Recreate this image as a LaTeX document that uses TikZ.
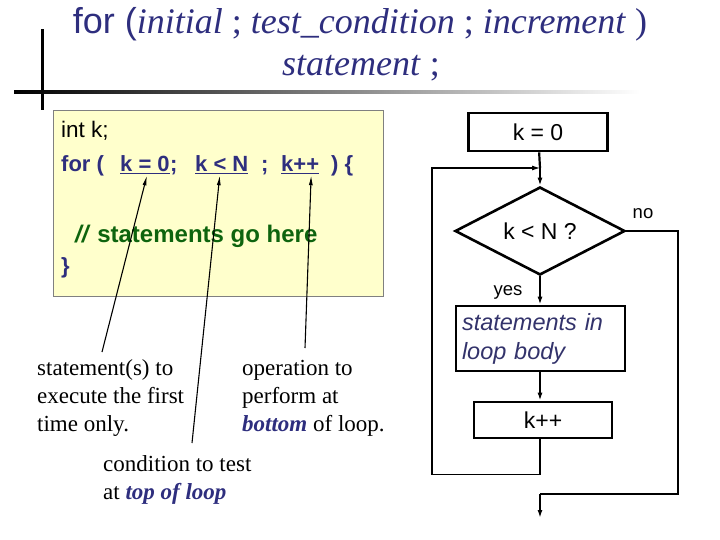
\documentclass[tikz,border=0pt]{standalone}
\usepackage{fontspec}
\setmainfont{Liberation Serif}
\setsansfont{Liberation Sans}
\definecolor{navy}{HTML}{2E2E7E}
\definecolor{slate}{HTML}{33336B}
\definecolor{codegreen}{HTML}{0E640E}
\definecolor{paleyellow}{HTML}{FFFFCC}
\usetikzlibrary{arrows.meta,positioning,calc,shapes.geometric}

\tikzset{
  heading/.style={font=\fontsize{36}{40}\selectfont, text=navy, inner sep=0pt, anchor=base},
  code/.style={font=\sffamily\fontsize{22.5}{26}\selectfont, inner sep=0pt, anchor=base west},
  codebold/.style={code, font=\sffamily\bfseries\fontsize{22}{26}\selectfont, text=navy},
  note/.style={font=\fontsize{23}{28}\selectfont, align=left, inner sep=0pt, anchor=base west},
  flowbox/.style={draw, line width=2.6pt, font=\sffamily\fontsize{23}{27}\selectfont},
  pointer/.style={-{Latex[length=10pt,width=4pt]}, line width=1.1pt},
  flow/.style={-{Latex[length=8pt,width=5pt]}, line width=2.2pt},
  back/.style={line width=1.1pt}
}
\newcommand{\hi}[1]{\textcolor{navy}{\textbf{\textit{#1}}}}

\begin{document}
\begin{tikzpicture}[x=1pt, y=-1pt]
  \useasboundingbox (0,0) rectangle (720,540);

  % title
  \node[heading] (head1) at (360,34)
    {{\sffamily for (}\textit{initial} ; \textit{test\_condition} ; \textit{increment} )};
  \node[heading] (head2) at (361,76) {\textit{statement} ;};
  \fill (40.5,29) rectangle (43.5,110);
  \shade[left color=black, right color=white] (14,90.5) rectangle (640,93.5);

  % code panel
  \node[draw=gray, fill=paleyellow, minimum width=330pt, minimum height=186pt, inner sep=0pt]
    (panel) at (218,203) {};
  \node[code] (decl) at (61,138) {int k;};
  \node[codebold] (kw) at (61,172) {for (};
  \node[codebold] (init) at (120,172) {\underline{k = 0}};
  \node[codebold] (semi1) at (init.base east) {;};
  \node[codebold] (cond) at (195,172) {\underline{k < N}};
  \node[codebold] (semi2) at (261,172) {;};
  \node[codebold] (incr) at (281,172) {\underline{k++}};
  \node[codebold] (brace) at (331,172) {) \{};
  \node[code, font=\sffamily\bfseries\fontsize{24}{28}\selectfont, text=codegreen]
    (comment) at (75,242) {\textit{//} statements go here};
  \node[codebold] (close) at (61,273) {\}};

  % notes
  \node[note] (firstnote) at (37,431) {statement(s) to\\execute the first\\time only.};
  \node[note] (lastnote) at (242,431) {operation to\\perform at\\\hi{bottom} of loop.};
  \node[note] (testnote) at (103,499) {condition to test\\at \hi{top of loop}};

  \coordinate (t1) at (102,352);
  \coordinate (t2) at (192,443);
  \coordinate (t3) at (305,348);
  \draw[pointer] (t1) -- ([xshift=2pt,yshift=-1pt]init.south);
  \draw[pointer] (t2) -- ([xshift=-2pt,yshift=-1pt]cond.south);
  \draw[pointer] (t3) -- ([xshift=11pt,yshift=-1pt]incr.south);

  % flowchart
  \node[flowbox, minimum width=139pt, minimum height=38pt] (start) at (538,132) {k = 0};
  \node[diamond, draw, line width=2.6pt, aspect=1.9, minimum width=170pt, minimum height=88pt,
    inner sep=0pt, font=\sffamily\fontsize{23}{27}\selectfont] (test) at (540,231) {k < N ?};
  \node[flowbox, minimum width=169pt, minimum height=65pt, text width=157pt, align=left,
    inner sep=3pt, font=\sffamily\itshape\fontsize{23.5}{29}\selectfont, text=slate]
    (body) at (540.5,338.5) {statements in\\loop body};
  \node[flowbox, minimum width=138pt, minimum height=36pt] (step) at (543,420) {k++};

  \node[font=\sffamily\fontsize{18.5}{22}\selectfont] (yes) at (508,292) {yes};
  \node[font=\sffamily\fontsize{18.5}{22}\selectfont] (no) at (643,214) {no};

  \coordinate (join) at (540,168);
  \coordinate (exit) at (540,494);
  \draw[line width=2.2pt] (start) -- (join);
  \draw[flow] (join) -- (test.north);
  \draw[flow] (test.south) -- (body.north -| test.south);
  \draw[flow] (body.south -| test.south) -- (step.north -| test.south);
  \draw[back, -{Latex[length=8pt,width=5pt]}] (step.south -| test.south) -- ++(0,35) -| (432,168) -- (join);
  \draw[back] (test.east) -- (678,231) |- (exit);
  \draw[flow] (exit) -- ++(0,24);

\end{tikzpicture}
\end{document}
